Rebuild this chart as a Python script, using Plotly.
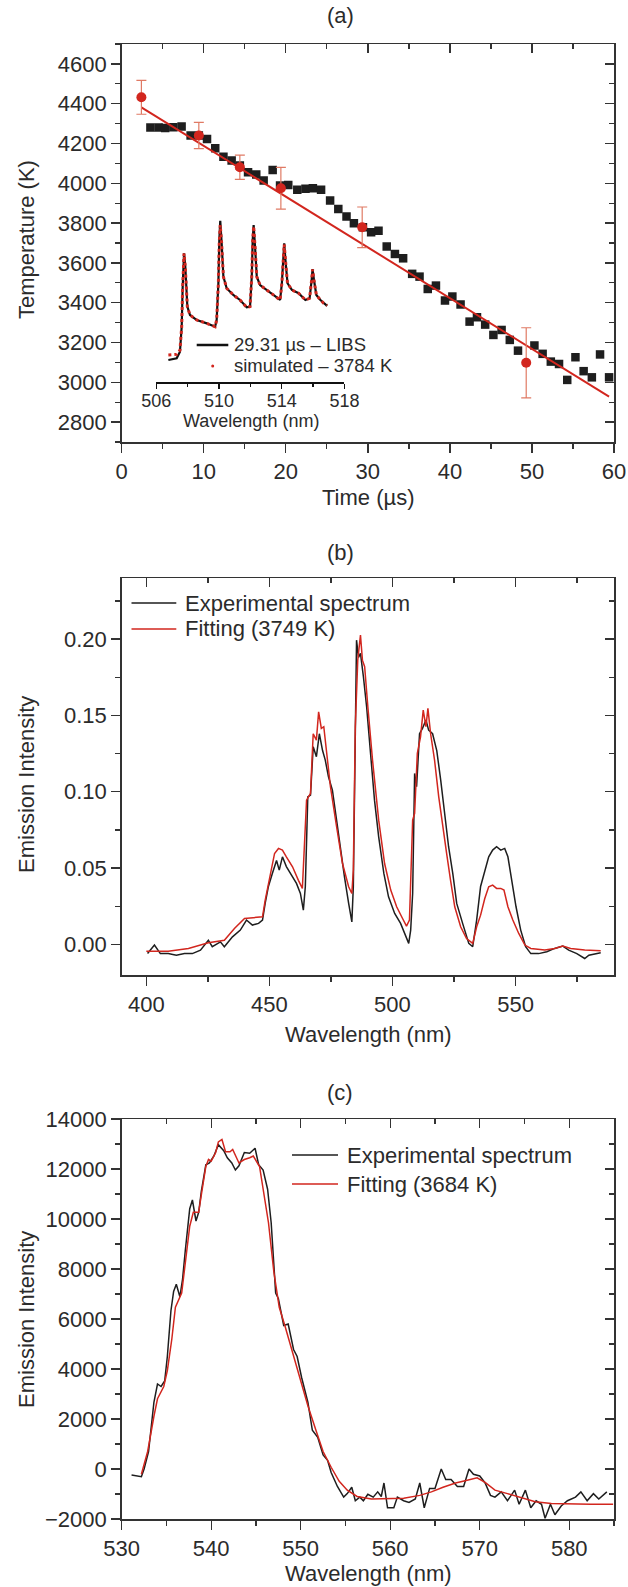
import plotly.graph_objects as go

W, H = 628, 1587
FONT = "Liberation Sans, Arial, Helvetica, sans-serif"
AX = "#333333"
TXT = "#2b2b2b"
BLK = "#1e1e1e"
RED = "#d2261e"
ERR = "#e07a64"

# ---------------- data: panel (a) ----------------
time_us = [3.5, 4.5, 5.3, 6.3, 7.3, 8.4, 9.4, 10.4, 11.4, 12.4, 13.4, 14.4, 15.4, 16.4, 17.3,
           18.4, 19.3, 20.3, 21.4, 22.4, 23.3, 24.3, 25.4, 26.4, 27.4, 28.3, 29.4, 30.4, 31.3,
           32.3, 33.3, 34.3, 35.4, 36.3, 37.3, 38.3, 39.4, 40.3, 41.3, 42.4, 43.3, 44.3, 45.3,
           46.3, 47.3, 48.3, 50.3, 51.3, 52.3, 53.3, 54.3, 55.3, 56.3, 57.3, 58.3, 59.4]
temp_K = [4280, 4280, 4278, 4282, 4285, 4240, 4240, 4223, 4176, 4134, 4114, 4089, 4055, 4044, 4014,
          4067, 3989, 3992, 3967, 3972, 3975, 3967, 3913, 3871, 3833, 3799, 3779, 3754, 3762,
          3682, 3645, 3623, 3545, 3531, 3469, 3486, 3411, 3431, 3391, 3305, 3327, 3290, 3238,
          3263, 3213, 3159, 3185, 3143, 3104, 3092, 3012, 3126, 3056, 3025, 3140, 3025]

sim_time = [2.4, 9.4, 14.4, 19.4, 29.31, 49.3]
sim_temp = [4432, 4240, 4081, 3975, 3779, 3098]
sim_err = [85, 66, 61, 105, 102, 176]

fit_time = [2.4, 59.4]
fit_temp = [4382, 2928]

# inset spectrum (normalised intensity)
ins_wl = [506.77, 507.30, 507.51, 507.62, 507.68, 507.77, 507.85, 507.98, 508.15, 508.58,
          509.22, 509.75, 509.85, 509.96, 510.02, 510.08, 510.17, 510.28, 510.49, 510.91,
          511.34, 511.77, 511.98, 512.09, 512.15, 512.21, 512.30, 512.41, 512.62, 513.05,
          513.47, 513.90, 514.01, 514.09, 514.16, 514.24, 514.37, 514.65, 515.08, 515.51,
          515.78, 515.91, 515.97, 516.06, 516.21, 516.47, 516.68, 516.90]
ins_libs = [0.00, 0.012, 0.060, 0.239, 0.515, 0.766, 0.670, 0.383, 0.323, 0.287,
            0.263, 0.239, 0.287, 0.551, 0.861, 1.000, 0.838, 0.598, 0.515, 0.467,
            0.431, 0.378, 0.383, 0.598, 0.861, 0.969, 0.813, 0.598, 0.538, 0.503,
            0.467, 0.431, 0.551, 0.730, 0.838, 0.718, 0.551, 0.503, 0.479, 0.431,
            0.443, 0.574, 0.653, 0.574, 0.467, 0.431, 0.407, 0.388]
ins_sim = [0.036, 0.040, 0.070, 0.239, 0.515, 0.766, 0.670, 0.383, 0.323, 0.287,
           0.263, 0.239, 0.287, 0.551, 0.850, 0.969, 0.838, 0.598, 0.515, 0.467,
           0.431, 0.378, 0.383, 0.598, 0.861, 0.960, 0.813, 0.598, 0.538, 0.503,
           0.467, 0.431, 0.551, 0.730, 0.830, 0.718, 0.551, 0.503, 0.479, 0.431,
           0.443, 0.574, 0.650, 0.574, 0.467, 0.431, 0.407, 0.392]

# ---------------- data: panel (b) ----------------
b_exp_wl = [400.5, 403.3, 405.7, 408.9, 412.2, 415.5, 418.7, 422.0, 425.2, 426.8,
            430.1, 431.7, 435.0, 438.2, 440.7, 443.1, 445.6, 447.2, 448.3, 449.6,
            451.2, 452.9, 454.0, 455.3, 456.9, 458.6, 461.0, 462.6, 463.8, 464.6,
            465.6, 466.7, 467.8, 469.1, 470.3, 471.6, 472.7, 474.0, 475.6, 477.3,
            478.9, 480.5, 482.2, 483.5, 484.1, 484.8, 485.4, 486.2, 487.0, 488.2,
            489.5, 491.1, 492.7, 494.4, 496.5, 498.4, 500.9, 503.3, 505.0, 506.6,
            507.4, 508.2, 509.0, 509.8, 511.0, 512.2, 513.6, 514.7, 516.3, 518.0,
            519.6, 521.2, 522.8, 524.5, 526.1, 528.5, 531.0, 532.6, 534.2, 535.8,
            537.5, 539.1, 540.7, 542.3, 544.0, 545.6, 546.9, 548.5, 550.2, 552.1,
            554.1, 556.2, 559.4, 562.7, 565.9, 569.2, 571.6, 574.9, 578.1, 579.8,
            582.2, 584.6]
b_exp_int = [-0.0059, -0.0004, -0.006, -0.006, -0.007, -0.006, -0.006, -0.0037, 0.0028, -0.0015,
             0.0017, -0.0015, 0.005, 0.0094, 0.016, 0.0127, 0.0138, 0.016, 0.027, 0.038,
             0.0465, 0.055, 0.0487, 0.0574, 0.051, 0.0465, 0.04, 0.0334, 0.0225, 0.038,
             0.0967, 0.0978, 0.1295, 0.123, 0.138, 0.127, 0.1207, 0.1098, 0.101, 0.0814,
             0.0618, 0.0443, 0.0269, 0.0148, 0.0378, 0.147, 0.1993, 0.188, 0.1906, 0.1753,
             0.1557, 0.125, 0.0945, 0.0705, 0.0465, 0.0312, 0.0203, 0.0138, 0.0072, 0.0007,
             0.0094, 0.0334, 0.112, 0.1033, 0.138, 0.1415, 0.147, 0.1404, 0.138, 0.127,
             0.1076, 0.0836, 0.064, 0.0465, 0.0269, 0.0138, 0.0007, -0.0015, 0.016, 0.038,
             0.0487, 0.0574, 0.0618, 0.064, 0.0618, 0.0629, 0.0574, 0.042, 0.0247, 0.0094,
             -0.0015, -0.006, -0.006, -0.0048, -0.0026, -0.0011, -0.0037, -0.006, -0.0092, -0.007,
             -0.006, -0.0055]
b_fit_wl = [400.0, 408.9, 417.1, 425.2, 431.7, 435.8, 439.9, 444.7, 447.2, 448.3,
            449.9, 452.1, 453.7, 455.3, 456.9, 459.4, 461.8, 463.4, 465.1, 466.7,
            467.8, 469.1, 470.0, 471.1, 472.1, 473.2, 474.8, 477.3, 479.7, 482.2,
            483.5, 484.1, 484.9, 485.9, 487.0, 487.8, 488.7, 490.0, 491.9, 494.4,
            496.8, 499.3, 501.7, 504.1, 505.7, 506.9, 508.2, 509.0, 510.1, 511.4,
            512.5, 513.6, 514.4, 515.5, 517.1, 518.8, 520.4, 522.0, 523.6, 525.3,
            527.7, 530.1, 532.6, 534.2, 535.8, 537.5, 539.1, 540.7, 542.3, 544.0,
            545.3, 546.9, 548.9, 551.3, 553.8, 556.2, 561.9, 565.9, 569.2, 572.4,
            578.1, 584.6]
b_fit_int = [-0.0044, -0.0044, -0.0026, 0.0011, 0.0028, 0.0105, 0.017, 0.0177, 0.0181, 0.029,
             0.042, 0.0596, 0.0629, 0.0618, 0.0574, 0.0509, 0.042, 0.0367, 0.0945, 0.0989,
             0.138, 0.1338, 0.1524, 0.1415, 0.1426, 0.1251, 0.1033, 0.0771, 0.053, 0.0378,
             0.0334, 0.0487, 0.1426, 0.1862, 0.2026, 0.1862, 0.1819, 0.1557, 0.1207, 0.0814,
             0.053, 0.0356, 0.0247, 0.017, 0.012, 0.016, 0.0814, 0.0858, 0.1251, 0.136,
             0.1535, 0.1426, 0.1546, 0.138, 0.1207, 0.0967, 0.0771, 0.0596, 0.042, 0.0247,
             0.0116, 0.0039, 0.0007, 0.0116, 0.0192, 0.0301, 0.0378, 0.0389, 0.0367, 0.0367,
             0.0356, 0.0247, 0.016, 0.0072, -0.0004, -0.0026, -0.0037, -0.0026, -0.0011, -0.0026,
             -0.0037, -0.0041]

# ---------------- data: panel (c) ----------------
c_exp_wl = [531.1, 532.2, 532.5, 533.0, 533.6, 534.0, 534.4, 534.8, 535.1, 535.5,
            535.8, 536.1, 536.5, 536.8, 537.1, 537.6, 537.9, 538.3, 538.6, 538.9,
            539.4, 539.8, 540.3, 540.8, 541.4, 541.8, 542.3, 542.7, 543.1, 543.7,
            544.3, 544.9, 545.3, 545.8, 546.3, 546.7, 547.2, 547.5, 548.1, 548.6,
            549.2, 549.6, 550.1, 550.8, 551.3, 551.9, 552.5, 553.0, 553.4, 554.1,
            554.8, 555.2, 555.7, 556.1, 556.6, 557.0, 557.5, 558.1, 558.6, 559.0,
            559.3, 559.7, 560.4, 560.8, 561.5, 562.1, 562.8, 563.3, 563.8, 564.4,
            565.0, 565.7, 566.2, 566.8, 567.5, 568.2, 568.8, 569.3, 570.0, 570.6,
            571.2, 571.7, 572.4, 573.1, 573.9, 574.4, 575.1, 575.7, 576.3, 576.9,
            577.3, 577.9, 578.4, 579.1, 579.8, 580.7, 581.3, 582.0, 582.7, 583.3,
            584.2]
c_exp_int = [-240, -310, 0, 700, 2670, 3400, 3300, 3520, 4500, 6330,
             7100, 7390, 6890, 7600, 8720, 10410, 10760, 9920, 10270, 11120,
             12170, 12240, 12520, 12970, 12730, 12450, 12240, 11960, 12130, 12660,
             12630, 12830, 12170, 11960, 11190, 9850, 7035, 6820, 5740, 5800,
             4780, 4500, 3660, 2670, 1550, 1270, 560, 350, -140, -700,
             -1125, -985, -730, -1270, -1125, -1270, -1010, -1125, -915, -1100,
             -560, -1550, -1550, -1125, -1270, -1340, -1200, -560, -1550, -775,
             -775, 0, -420, -420, -700, -700, 0, -210, -280, -560,
             -1055, -1125, -915, -1270, -845, -1410, -845, -1550, -1270, -1410,
             -1970, -1410, -1830, -1480, -1270, -1125, -915, -1270, -985, -1200,
             -915]
c_fit_wl = [532.2, 532.9, 533.6, 534.0, 534.7, 535.1, 535.6, 536.0, 536.7, 537.1,
            537.6, 538.0, 538.6, 538.9, 539.4, 539.7, 540.0, 540.5, 540.8, 541.2,
            541.6, 542.1, 542.4, 543.1, 543.7, 544.3, 544.7, 545.4, 545.8, 546.4,
            547.0, 547.6, 548.2, 549.0, 549.9, 550.8, 551.7, 552.5, 553.4, 554.3,
            555.2, 556.3, 557.9, 559.7, 561.5, 563.3, 564.6, 565.9, 567.3, 568.6,
            569.7, 570.6, 571.7, 573.1, 574.4, 576.2, 578.0, 580.2, 582.4, 584.9]
c_fit_int = [-210, 700, 2110, 2810, 3300, 3940, 5200, 6470, 7035, 8160,
             9710, 10270, 10270, 10975, 12100, 12380, 12310, 12660, 13085, 13180,
             12690, 12690, 12780, 12240, 12380, 12450, 12520, 12100, 11260, 9850,
             7880, 6470, 5770, 4780, 3660, 2530, 1550, 700, 70, -490,
             -845, -1100, -1200, -1200, -1170, -1055, -915, -730, -560, -450,
             -350, -535, -845, -985, -1125, -1310, -1380, -1410, -1410, -1410]

c_ytick_vals = [-2000, 0, 2000, 4000, 6000, 8000, 10000, 12000, 14000]
c_ytick_text = ["\u22122000", "0", "2000", "4000", "6000", "8000", "10000", "12000", "14000"]

# ---------------- geometry (pixels) ----------------
def fx(p):
    return p / W


def fy(p):
    return 1 - p / H


LEFT, RIGHT = 121.7, 614.0
A_TOP, A_BOT = 44, 442
B_TOP, B_BOT = 578, 975
C_TOP, C_BOT = 1119, 1519
INS_L, INS_R, INS_TOP, INS_BOT = 156.3, 344.4, 215, 381.7

fig = go.Figure()

# panel (a)
fig.add_trace(go.Scatter(x=time_us, y=temp_K, mode="markers", xaxis="x", yaxis="y",
                         marker=dict(symbol="square", size=8.5, color=BLK, line=dict(width=0)),
                         showlegend=False))
fig.add_trace(go.Scatter(x=fit_time, y=fit_temp, mode="lines", xaxis="x", yaxis="y",
                         line=dict(color=RED, width=2), showlegend=False))
fig.add_trace(go.Scatter(x=sim_time, y=sim_temp, mode="markers", xaxis="x", yaxis="y",
                         marker=dict(symbol="circle", size=10, color=RED),
                         error_y=dict(type="data", array=sim_err, color=ERR, thickness=1.2, width=5),
                         showlegend=False))
# inset
fig.add_trace(go.Scatter(x=ins_wl, y=ins_libs, mode="lines", xaxis="x4", yaxis="y4",
                         line=dict(color="#111111", width=2.2), showlegend=False))
fig.add_trace(go.Scatter(x=ins_wl, y=ins_sim, mode="lines", xaxis="x4", yaxis="y4",
                         line=dict(color=RED, width=3, dash="dot"), showlegend=False))
# panel (b)
fig.add_trace(go.Scatter(x=b_exp_wl, y=b_exp_int, mode="lines", xaxis="x2", yaxis="y2",
                         line=dict(color=BLK, width=1.5), showlegend=False))
fig.add_trace(go.Scatter(x=b_fit_wl, y=b_fit_int, mode="lines", xaxis="x2", yaxis="y2",
                         line=dict(color=RED, width=1.5), showlegend=False))
# panel (c)
fig.add_trace(go.Scatter(x=c_exp_wl, y=c_exp_int, mode="lines", xaxis="x3", yaxis="y3",
                         line=dict(color=BLK, width=1.5), showlegend=False))
fig.add_trace(go.Scatter(x=c_fit_wl, y=c_fit_int, mode="lines", xaxis="x3", yaxis="y3",
                         line=dict(color=RED, width=1.5), showlegend=False))

# dummy traces so mirror axes are drawn
for xa, ya in [("x5", "y"), ("x", "y5"), ("x6", "y2"), ("x2", "y6"), ("x7", "y3"), ("x3", "y7")]:
    fig.add_trace(go.Scatter(x=[None], y=[None], xaxis=xa, yaxis=ya, showlegend=False,
                             hoverinfo="skip"))

TICKFONT = dict(family=FONT, size=22, color=TXT)


def main_axis(rng, domain, anchor, dtick, minor_dtick, **kw):
    d = dict(range=rng, domain=domain, anchor=anchor, dtick=dtick,
             showline=True, mirror=True, linecolor=AX, linewidth=1.5,
             ticks="outside", ticklen=9, tickwidth=1.3, tickcolor=AX,
             showgrid=False, zeroline=False, tickfont=TICKFONT, automargin=False,
             minor=dict(dtick=minor_dtick, ticks="outside", ticklen=5, tickwidth=1.3,
                        tickcolor=AX, showgrid=False))
    d.update(kw)
    return d


def mirror_axis(rng, overlaying, anchor, side, dtick, minor_dtick):
    return dict(range=rng, overlaying=overlaying, anchor=anchor, side=side, dtick=dtick,
                showline=False, ticks="inside", ticklen=9, tickwidth=1.3, tickcolor=AX,
                showticklabels=False, showgrid=False, zeroline=False, automargin=False,
                minor=dict(dtick=minor_dtick, ticks="inside", ticklen=5, tickwidth=1.3,
                           tickcolor=AX, showgrid=False))


xdom = [fx(LEFT), fx(RIGHT)]
layout_axes = dict(
    xaxis=main_axis([0, 60], xdom, "y", 10, 5),
    yaxis=main_axis([2700, 4700], [fy(A_BOT), fy(A_TOP)], "x", 200, 100),
    xaxis2=main_axis([390, 590], xdom, "y2", 50, 25),
    yaxis2=main_axis([-0.02, 0.24], [fy(B_BOT), fy(B_TOP)], "x2", 0.05, 0.025, tickformat=".2f"),
    xaxis3=main_axis([530, 585], xdom, "y3", 10, 5),
    yaxis3=main_axis([-2000, 14000], [fy(C_BOT), fy(C_TOP)], "x3", None, None,
                     tickmode="array", tickvals=c_ytick_vals, ticktext=c_ytick_text,
                     minor=dict(tickmode="linear", tick0=-1000, dtick=2000, ticks="outside",
                                ticklen=5, tickwidth=1.3, tickcolor=AX, showgrid=False)),
    xaxis4=dict(range=[506, 518], domain=[fx(INS_L), fx(INS_R)], anchor="y4",
                tick0=506, dtick=4,
                showline=True, linecolor="#111111", linewidth=2, ticks="outside", ticklen=5,
                tickwidth=1.5, tickcolor="#111111", showgrid=False, zeroline=False,
                tickfont=dict(family=FONT, size=18, color=TXT), automargin=False,
                ticklabelstandoff=-3,
                minor=dict(tick0=506, dtick=2, ticks="outside", ticklen=3, tickwidth=1.2,
                           tickcolor="#111111", showgrid=False)),
    yaxis4=dict(range=[-0.156, 1.041], domain=[fy(INS_BOT), fy(INS_TOP)], anchor="x4",
                visible=False),
    xaxis5=mirror_axis([0, 60], "x", "y", "top", 10, 5),
    yaxis5=mirror_axis([2700, 4700], "y", "x", "right", 200, 100),
    xaxis6=mirror_axis([390, 590], "x2", "y2", "top", 50, 25),
    yaxis6=mirror_axis([-0.02, 0.24], "y2", "x2", "right", 0.05, 0.025),
    xaxis7=mirror_axis([530, 585], "x3", "y3", "top", 10, 5),
    yaxis7=mirror_axis([-2000, 14000], "y3", "x3", "right", 2000, 1000),
)


def ann(text, x, y, size=22, angle=0, xanchor="center"):
    return dict(text=text, x=fx(x), y=fy(y), xref="paper", yref="paper", showarrow=False,
                font=dict(family=FONT, size=size, color=TXT), textangle=angle,
                xanchor=xanchor, yanchor="middle")


annotations = [
    ann("(a)", 340, 16), ann("(b)", 340, 552), ann("(c)", 340, 1092),
    ann("Time (\u00b5s)", 368, 497),
    ann("Wavelength (nm)", 368, 1034),
    ann("Wavelength (nm)", 368, 1573),
    ann("Temperature (K)", 26, 240, angle=-90),
    ann("Emission Intensity", 26, 785, angle=-90),
    ann("Emission Intensity", 26, 1320, angle=-90),
    ann("Wavelength (nm)", 251, 421, size=18),
    # legends
    ann("29.31 \u00b5s \u2013 LIBS", 232, 345, size=18.5, xanchor="left"),
    ann("simulated \u2013 3784 K", 232, 366, size=18.5, xanchor="left"),
    ann("Experimental spectrum", 183, 603, xanchor="left"),
    ann("Fitting (3749 K)", 183, 629, xanchor="left"),
    ann("Experimental spectrum", 345, 1155, xanchor="left"),
    ann("Fitting (3684 K)", 345, 1184, xanchor="left"),
]


def hline(x0, x1, y, color, width):
    return dict(type="line", xref="paper", yref="paper", x0=fx(x0), x1=fx(x1), y0=fy(y), y1=fy(y),
                line=dict(color=color, width=width))


shapes = [
    hline(196.7, 228.3, 345, "#111111", 2.5),
    dict(type="circle", xref="paper", yref="paper", x0=fx(211.2), x1=fx(214.2), y0=fy(367.5),
         y1=fy(364.5), fillcolor=RED, line=dict(width=0)),
    hline(131.5, 176.3, 603, BLK, 1.5),
    hline(131.5, 176.3, 629, RED, 1.5),
    hline(292, 338, 1155, BLK, 1.5),
    hline(292, 338, 1184, RED, 1.5),
]

fig.update_layout(
    width=W, height=H,
    margin=dict(l=0, r=0, t=0, b=0),
    paper_bgcolor="white", plot_bgcolor="rgba(0,0,0,0)",
    font=dict(family=FONT, color=TXT),
    showlegend=False,
    hovermode=False,
    annotations=annotations,
    shapes=shapes,
    **layout_axes,
)

fig.write_html("out.html",
               config={"displayModeBar": False, "staticPlot": True},
               post_script="document.body.style.margin='0';document.body.style.overflow='hidden';")
